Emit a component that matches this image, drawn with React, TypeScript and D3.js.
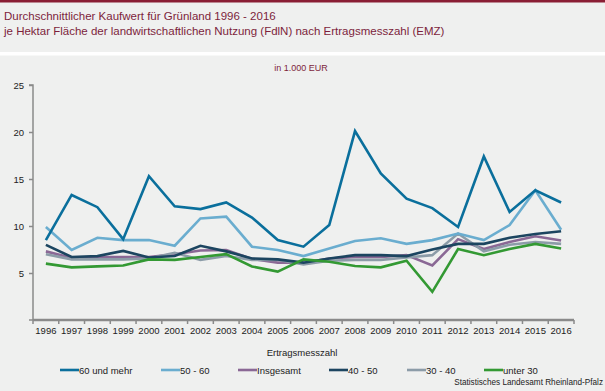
import { useEffect, useRef } from "react";
import * as d3 from "d3";

const WIDTH = 605;
const HEIGHT = 391;
const MARGIN = { top: 85, right: 31, bottom: 71, left: 33 };

const years = d3.range(1996, 2017).map(String);

const s60plus = [8.5, 13.3, 12.0, 8.6, 15.3, 12.1, 11.8, 12.5, 10.9, 8.5, 7.8, 10.1, 20.1, 15.6, 12.9, 11.9, 9.9, 17.4, 11.5, 13.8, 12.5];
const s5060 = [9.9, 7.45, 8.75, 8.5, 8.5, 7.9, 10.8, 11.0, 7.8, 7.45, 6.8, 7.6, 8.4, 8.7, 8.1, 8.5, 9.2, 8.5, 10.1, 13.8, 9.6];
const sTotal = [7.3, 6.6, 6.7, 6.7, 6.7, 7.0, 7.4, 7.45, 6.5, 6.1, 6.1, 6.55, 6.7, 6.7, 6.9, 5.8, 8.6, 7.55, 8.3, 8.9, 8.45];
const s4050 = [8.0, 6.7, 6.8, 7.35, 6.65, 6.8, 7.9, 7.3, 6.55, 6.45, 6.1, 6.55, 6.9, 6.9, 6.8, 7.5, 8.1, 8.1, 8.75, 9.15, 9.45];
const s3040 = [7.0, 6.45, 6.45, 6.45, 6.55, 7.15, 6.4, 6.8, 6.4, 6.4, 5.9, 6.3, 6.4, 6.4, 6.65, 6.9, 9.2, 7.3, 8.0, 8.3, 8.1];
const sUnder30 = [6.0, 5.6, 5.7, 5.8, 6.45, 6.4, 6.7, 7.0, 5.7, 5.15, 6.45, 6.2, 5.75, 5.6, 6.3, 3.0, 7.55, 6.9, 7.55, 8.1, 7.6];

const seriesNames = ["60 und mehr", "50 - 60", "Insgesamt", "40 - 50", "30 - 40", "unter 30"];
const seriesColors = ["#0a6f9c", "#6aadcf", "#8a6895", "#1c4560", "#8c9ca8", "#339933"];
const seriesValues = [s60plus, s5060, sTotal, s4050, s3040, sUnder30];
// draw order (back to front)
const drawOrder = [2, 4, 3, 5, 1, 0];
const legendX = [60, 161, 238, 329, 407, 484];

const yTicks = [5, 10, 15, 20, 25];

const FONT = "'Liberation Sans', Arial, sans-serif";

export default function App() {
  const axesRef = useRef<SVGGElement>(null);

  const boundsWidth = WIDTH - MARGIN.left - MARGIN.right;
  const boundsHeight = HEIGHT - MARGIN.top - MARGIN.bottom;

  const xScale = d3.scaleBand().domain(years).range([0, boundsWidth]);
  const yScale = d3.scaleLinear().domain([0, 25]).range([boundsHeight, 0]);

  const line = d3
    .line<number>()
    .x((_, i) => (xScale(years[i]) ?? 0) + xScale.bandwidth() / 2)
    .y((d) => yScale(d));

  useEffect(() => {
    if (!axesRef.current) return;
    const g = d3.select(axesRef.current);
    g.selectAll("*").remove();

    // y axis
    const yAxis = g.append("g").call(d3.axisLeft(yScale).tickValues(yTicks).tickSize(4).tickPadding(5));
    yAxis.select(".domain").attr("stroke", "#8a8a8a").attr("stroke-width", 1.5).attr("d", `M-4,0H0V${boundsHeight}H-4`);
    yAxis.selectAll(".tick line").attr("stroke", "#8a8a8a").attr("stroke-width", 1.5);
    yAxis.selectAll(".tick text").attr("font-family", FONT).attr("font-size", 9.5).attr("fill", "#222");

    // x axis with ticks at band boundaries
    const xAxis = g
      .append("g")
      .attr("transform", `translate(0, ${boundsHeight})`)
      .call(d3.axisBottom(xScale).tickSize(0).tickPadding(7));
    xAxis.select(".domain").attr("stroke", "#8a8a8a").attr("stroke-width", 2.5).attr("d", `M0,0H${boundsWidth}`);
    xAxis.selectAll(".tick text").attr("font-family", FONT).attr("font-size", 9.5).attr("fill", "#222");
    xAxis
      .selectAll("line.bound")
      .data(d3.range(years.length + 1))
      .join("line")
      .attr("class", "bound")
      .attr("x1", (i) => i * xScale.step())
      .attr("x2", (i) => i * xScale.step())
      .attr("y1", 0)
      .attr("y2", 4)
      .attr("stroke", "#8a8a8a")
      .attr("stroke-width", 1.5);
  }, [xScale, yScale, boundsHeight, boundsWidth]);

  return (
    <svg width={WIDTH} height={HEIGHT} style={{ position: "absolute", left: 0, top: 0, background: "#eff0ef" }}>
      <rect x={0} y={0} width={WIDTH} height={HEIGHT} fill="#eff0ef" />
      <rect x={0} y={0} width={WIDTH} height={2.5} fill="#8a1e34" />
      <rect x={0} y={52} width={WIDTH} height={3.5} fill="#ffffff" />
      <text x={4} y={20} fontFamily={FONT} fontSize={11.5} fill="#7d1f3c">
        Durchschnittlicher Kaufwert für Grünland 1996 - 2016
      </text>
      <text x={4} y={35} fontFamily={FONT} fontSize={11.5} fill="#7d1f3c">
        je Hektar Fläche der landwirtschaftlichen Nutzung (FdlN) nach Ertragsmesszahl (EMZ)
      </text>
      <text x={301} y={71} textAnchor="middle" fontFamily={FONT} fontSize={9} fill="#7d1f3c">
        in 1.000 EUR
      </text>

      <g transform={`translate(${MARGIN.left},${MARGIN.top})`}>
        <g ref={axesRef} />
        {drawOrder.map((si) => (
          <path
            key={si}
            d={line(seriesValues[si]) ?? ""}
            fill="none"
            stroke={seriesColors[si]}
            strokeWidth={2.6}
            strokeLinejoin="miter"
          />
        ))}
      </g>

      <text x={302} y={356} textAnchor="middle" fontFamily={FONT} fontSize={9.5} fill="#222">
        Ertragsmesszahl
      </text>

      {seriesNames.map((name, i) => (
        <g key={name} transform={`translate(${legendX[i]}, 370)`}>
          <line x1={0} x2={19} y1={0} y2={0} stroke={seriesColors[i]} strokeWidth={2.6} />
          <text x={19} y={3.5} fontFamily={FONT} fontSize={9.5} fill="#222">
            {name}
          </text>
        </g>
      ))}

      <text x={603} y={385} textAnchor="end" fontFamily={FONT} fontSize={8.2} fill="#222">
        Statistisches Landesamt Rheinland-Pfalz
      </text>
    </svg>
  );
}
